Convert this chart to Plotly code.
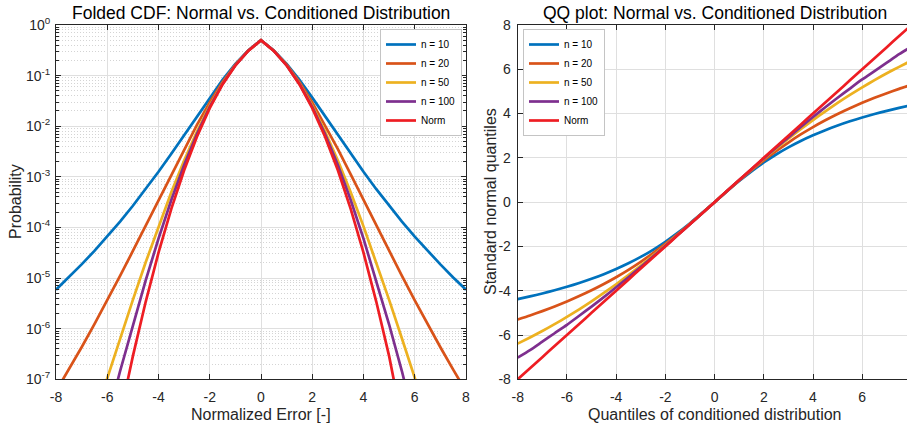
import plotly.graph_objects as go

# ---------------- data (positive half; curves are symmetric about 0) ----------------
x_half = [0, 0.5, 1, 1.5, 2, 2.5, 3, 3.5, 4, 4.5, 5, 5.5, 6, 6.5, 7, 7.5, 8]

series_names = ["n = 10", "n = 20", "n = 50", "n = 100", "Norm"]
series_colors = ["#0072BD", "#D95319", "#EDB120", "#7E2F8E", "#EE1D23"]

# folded CDF (tail probability)
p_n10 = [0.5, 0.314, 0.1704, 0.0823, 0.0367, 0.0157, 0.00667, 0.00287, 0.00126,
         5.7e-4, 2.68e-4, 1.31e-4, 6.6e-5, 3.45e-5, 1.86e-5, 1.03e-5, 5.9e-6]
p_n20 = [0.5, 0.3113, 0.1646, 0.0746, 0.0296, 0.0106, 0.00354, 0.00112, 3.5e-4,
         1.09e-4, 3.43e-5, 1.1e-5, 3.63e-6, 1.23e-6, 4.3e-7, 1.55e-7, 5.8e-8]
p_n50 = [0.5, 0.3096, 0.1611, 0.0699, 0.0255, 0.00788, 0.00211, 4.94e-4, 1.05e-4,
         2.05e-5, 3.7e-6, 6.4e-7, 1.09e-7, 1.8e-8, 3.0e-9, 5.0e-10, 8.4e-11]
p_n100 = [0.5, 0.3091, 0.1599, 0.0684, 0.0241, 0.00703, 0.00171, 3.49e-4, 6.0e-5,
          9.0e-6, 1.21e-6, 1.44e-7, 1.55e-8, 1.55e-9, 1.47e-10, 1.3e-11, 1.12e-12]
p_norm = [0.5, 0.30854, 0.15866, 0.066807, 0.02275, 0.0062097, 0.0013499, 2.3263e-4,
          3.1671e-5, 3.3977e-6, 2.8665e-7, 1.899e-8, 9.87e-10, 4.0e-11, 1.28e-12,
          3.2e-14, 6.2e-16]

z_n10 = [0, 0.485, 0.952, 1.390, 1.790, 2.152, 2.474, 2.762, 3.018, 3.252, 3.461,
         3.651, 3.823, 3.980, 4.124, 4.258, 4.381]
z_n20 = [0, 0.492, 0.976, 1.443, 1.887, 2.304, 2.693, 3.057, 3.390, 3.696, 3.981,
         4.242, 4.484, 4.711, 4.921, 5.116, 5.299]
z_n50 = [0, 0.497, 0.990, 1.476, 1.951, 2.415, 2.862, 3.294, 3.707, 4.102, 4.480,
         4.841, 5.183, 5.51, 5.82, 6.11, 6.39]
z_n100 = [0, 0.498, 0.995, 1.488, 1.975, 2.455, 2.925, 3.390, 3.846, 4.286, 4.715,
          5.13, 5.54, 5.92, 6.30, 6.68, 7.02]
z_norm = [0, 0.5, 1, 1.5, 2, 2.5, 3, 3.5, 4, 4.5, 5, 5.5, 6, 6.5, 7, 7.5, 8]

x_ticks = [-8, -6, -4, -2, 0, 2, 4, 6, 8]
x_ticktext = ["-8", "-6", "-4", "-2", "0", "2", "4", "6", "8"]
y_ticks_log = [1e-7, 1e-6, 1e-5, 1e-4, 1e-3, 1e-2, 1e-1, 1]
y_ticktext_log = ["10<sup>-7</sup>", "10<sup>-6</sup>", "10<sup>-5</sup>", "10<sup>-4</sup>",
                  "10<sup>-3</sup>", "10<sup>-2</sup>", "10<sup>-1</sup>", "10<sup>0</sup>"]
y_ticks_qq = [-8, -6, -4, -2, 0, 2, 4, 6, 8]
y_ticktext_qq = ["-8", "-6", "-4", "-2", "0", "2", "4", "6", "8"]

p_series = [p_n10, p_n20, p_n50, p_n100, p_norm]
z_series = [z_n10, z_n20, z_n50, z_n100, z_norm]


def mirror_x(xs):
    return [-v for v in reversed(xs[1:])] + list(xs)


def mirror_even(vs):
    return list(reversed(vs[1:])) + list(vs)


def mirror_odd(vs):
    return [-v for v in reversed(vs[1:])] + list(vs)


x_full = mirror_x(x_half)

fig = go.Figure()
for name, col, ps in zip(series_names, series_colors, p_series):
    fig.add_trace(go.Scatter(x=x_full, y=mirror_even(ps), mode="lines", name=name,
                             line=dict(color=col, width=2.7), xaxis="x", yaxis="y",
                             legend="legend"))
for name, col, zs in zip(series_names, series_colors, z_series):
    fig.add_trace(go.Scatter(x=x_full, y=mirror_odd(zs), mode="lines", name=name,
                             line=dict(color=col, width=2.7, shape="spline", smoothing=0.6),
                             xaxis="x2", yaxis="y2", legend="legend2"))

W, H = 907, 430
FONT = "Liberation Sans, Arial, Helvetica, sans-serif"
TXT = "#262626"
GRID = "#dfdfdf"
MGRID = "#d4d4d4"

left_dom = [56 / W, 466 / W]
right_dom = [517.7 / W, 1.0]
y_dom = [1 - 379.3 / H, 1 - 25 / H]

common_axis = dict(showline=True, linecolor=TXT, linewidth=1, ticks="inside",
                   tickcolor=TXT, ticklen=5, tickfont=dict(size=14, color=TXT, family=FONT),
                   showgrid=True, gridcolor=GRID, gridwidth=1, zeroline=False,
                   automargin=False)

fig.update_layout(
    width=W, height=H, margin=dict(l=0, r=0, t=0, b=0, autoexpand=False),
    paper_bgcolor="white", plot_bgcolor="white",
    font=dict(family=FONT, color=TXT),
    xaxis=dict(domain=left_dom, range=[-8, 8], anchor="y", mirror="ticks",
               tickmode="array", tickvals=x_ticks, ticktext=x_ticktext,
               ticklabelstandoff=5, **common_axis),
    yaxis=dict(domain=y_dom, type="log", range=[-7, 0], anchor="x", mirror="ticks",
               tickmode="array", tickvals=y_ticks_log, ticktext=y_ticktext_log,
               ticklabelstandoff=2,
               minor=dict(dtick="D1", ticks="inside", ticklen=3, tickcolor=TXT,
                          showgrid=True, gridcolor=MGRID, griddash="1px,2px", gridwidth=1),
               **common_axis),
    xaxis2=dict(domain=right_dom, range=[-8, 7.82], anchor="y2", mirror="ticks",
                tickmode="array", tickvals=x_ticks, ticktext=x_ticktext,
                ticklabelstandoff=5, **common_axis),
    yaxis2=dict(domain=y_dom, range=[-8, 8], anchor="x2", mirror=False,
                tickmode="array", tickvals=y_ticks_qq, ticktext=y_ticktext_qq,
                ticklabelstandoff=3, **common_axis),
    legend=dict(x=462 / W, y=1 - 29 / H, xanchor="right", yanchor="top",
                bgcolor="white", bordercolor="#c4c4c4", borderwidth=1,
                font=dict(size=10, color="#000", family=FONT), itemwidth=30,
                tracegroupgap=0),
    legend2=dict(x=523 / W, y=1 - 29 / H, xanchor="left", yanchor="top",
                 bgcolor="white", bordercolor="#c4c4c4", borderwidth=1,
                 font=dict(size=10, color="#000", family=FONT), itemwidth=30,
                 tracegroupgap=0),
    showlegend=True,
)

annotations = [
    dict(text="Folded CDF: Normal vs. Conditioned Distribution", x=(left_dom[0] + left_dom[1]) / 2,
         y=1 - 13 / H, xref="paper", yref="paper", showarrow=False,
         font=dict(size=17.5, color="#000", family=FONT), xanchor="center", yanchor="middle"),
    dict(text="QQ plot: Normal vs. Conditioned Distribution", x=(517.7 + 8 * 24.61) / W,
         y=1 - 13 / H, xref="paper", yref="paper", showarrow=False,
         font=dict(size=17.5, color="#000", family=FONT), xanchor="center", yanchor="middle"),
    dict(text="Normalized Error [-]", x=(left_dom[0] + left_dom[1]) / 2, y=1 - 414 / H,
         xref="paper", yref="paper", showarrow=False,
         font=dict(size=16, color=TXT, family=FONT), xanchor="center", yanchor="middle"),
    dict(text="Quantiles of conditioned distribution", x=(517.7 + 8 * 24.61) / W, y=1 - 414 / H,
         xref="paper", yref="paper", showarrow=False,
         font=dict(size=16, color=TXT, family=FONT), xanchor="center", yanchor="middle"),
    dict(text="Probability", x=15 / W, y=1 - 202 / H, xref="paper", yref="paper",
         showarrow=False, textangle=-90,
         font=dict(size=16, color=TXT, family=FONT), xanchor="center", yanchor="middle"),
    dict(text="Standard normal quantiles", x=490 / W, y=1 - 202 / H, xref="paper",
         yref="paper", showarrow=False, textangle=-90,
         font=dict(size=16, color=TXT, family=FONT), xanchor="center", yanchor="middle"),
]
fig.update_layout(annotations=annotations)

fig.write_html("out.html")
